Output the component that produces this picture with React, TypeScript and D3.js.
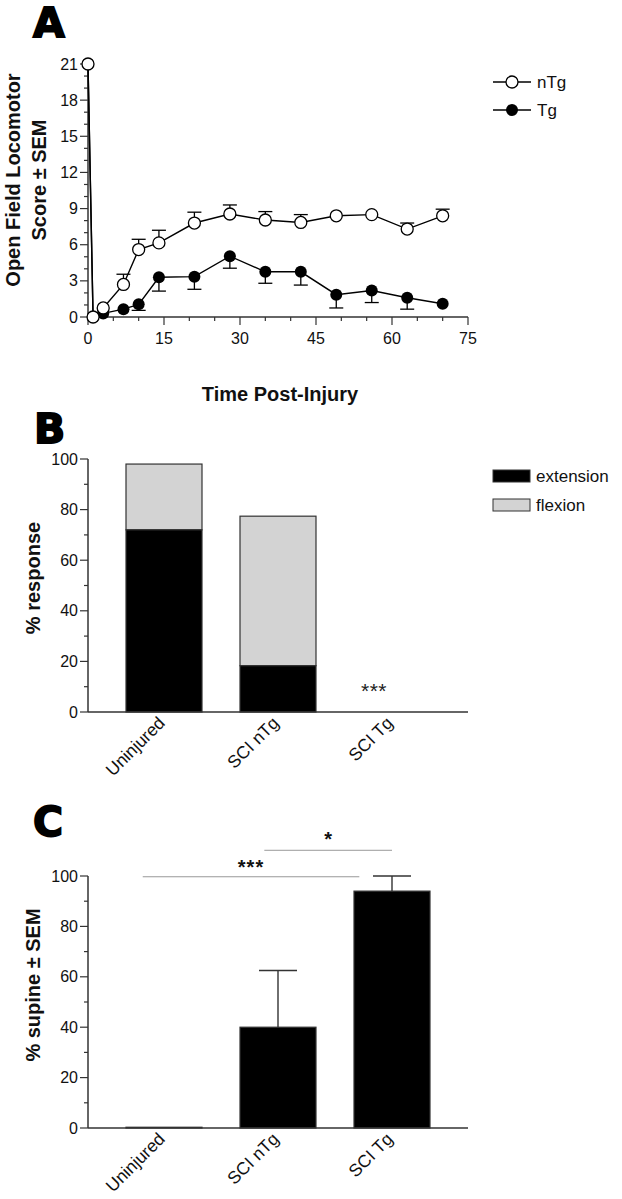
import React from 'react';
import * as d3 from 'd3';

// ---------- Panel A data ----------
const days = [0, 1, 3, 7, 10, 14, 21, 28, 35, 42, 49, 56, 63, 70];
const nTgMean = [21, 0, 0.75, 2.7, 5.6, 6.15, 7.8, 8.55, 8.05, 7.85, 8.4, 8.5, 7.3, 8.4];
const nTgSem = [0, 0, 0, 0.85, 0.85, 1.05, 0.9, 0.75, 0.7, 0.65, 0, 0, 0.5, 0.55];
const tgMean = [21, 0, 0.3, 0.65, 1.05, 3.3, 3.35, 5.05, 3.75, 3.75, 1.85, 2.2, 1.6, 1.1];
const tgSem = [0, 0, 0, 0, 0.5, 1.15, 1.05, 1.0, 0.95, 1.1, 1.1, 1.0, 0.95, 0];
const aYTicks = [0, 3, 6, 9, 12, 15, 18, 21];
const aXTicks = [0, 15, 30, 45, 60, 75];

// ---------- Panel B data ----------
const groups = ['Uninjured', 'SCI nTg', 'SCI Tg'];
const extension = [72, 18.3, 0];
const flexion = [26, 59.1, 0];
const pctTicks = [0, 20, 40, 60, 80, 100];

// ---------- Panel C data ----------
const supineMean = [0.3, 40, 94];
const supineSem = [0, 22.5, 6];

const FONT = '"Liberation Sans", Arial, Helvetica, sans-serif';
const AX = '#333';

function Letter({ x, y, t }: { x: number; y: number; t: string }) {
  return (
    <text x={x} y={y} fontFamily='"DejaVu Sans", sans-serif' fontWeight={900} fontSize={41}
      stroke="#000" strokeWidth={1.8} fill="#000">{t}</text>
  );
}

function PanelA() {
  const x = d3.scaleLinear().domain([0, 75]).range([88, 468]);
  const y = d3.scaleLinear().domain([0, 21]).range([317, 64]);
  const line = d3.line<number>().x((_, i) => x(days[i])).y((d) => y(d));
  const minorY = d3.range(0, 22, 1);
  const minorX = d3.range(0, 76, 5);
  const r = 6;
  const capW = 7;
  return (
    <g fontFamily={FONT}>
      <line x1={x(0)} x2={x(0)} y1={y(0)} y2={y(21)} stroke={AX} strokeWidth={1.5} />
      <line x1={x(0)} x2={x(75)} y1={y(0)} y2={y(0)} stroke={AX} strokeWidth={1.5} />
      {minorY.map((t) => (
        <line key={'my' + t} x1={x(0) - (t % 3 === 0 ? 8 : 4)} x2={x(0)} y1={y(t)} y2={y(t)} stroke={AX} strokeWidth={1.2} />
      ))}
      {aYTicks.map((t) => (
        <text key={'yl' + t} x={x(0) - 10} y={y(t) + 5.5} textAnchor="end" fontSize={16} fill="#111">{t}</text>
      ))}
      {minorX.map((t) => (
        <line key={'mx' + t} x1={x(t)} x2={x(t)} y1={y(0)} y2={y(0) + (t % 15 === 0 ? 8 : 4)} stroke={AX} strokeWidth={1.2} />
      ))}
      {aXTicks.map((t) => (
        <text key={'xl' + t} x={x(t)} y={y(0) + 27} textAnchor="middle" fontSize={16} fill="#111">{t}</text>
      ))}
      <text x={280} y={401} textAnchor="middle" fontSize={20} fontWeight="bold" fill="#111">Time Post-Injury</text>
      <text transform={`translate(20,180) rotate(-90)`} textAnchor="middle" fontSize={20} fontWeight="bold" fill="#111">Open Field Locomotor</text>
      <text transform={`translate(46,180) rotate(-90)`} textAnchor="middle" fontSize={20} fontWeight="bold" fill="#111">Score ± SEM</text>

      {/* Tg series */}
      {tgMean.map((m, i) => tgSem[i] > 0 ? (
        <g key={'te' + i} stroke="#000" strokeWidth={1.3}>
          <line x1={x(days[i])} x2={x(days[i])} y1={y(m)} y2={y(m - tgSem[i])} />
          <line x1={x(days[i]) - capW} x2={x(days[i]) + capW} y1={y(m - tgSem[i])} y2={y(m - tgSem[i])} />
        </g>
      ) : null)}
      <path d={line(tgMean) || ''} fill="none" stroke="#000" strokeWidth={1.4} />
      {tgMean.map((m, i) => (
        <circle key={'tc' + i} cx={x(days[i])} cy={y(m)} r={r} fill="#000" />
      ))}

      {/* nTg series */}
      {nTgMean.map((m, i) => nTgSem[i] > 0 ? (
        <g key={'ne' + i} stroke="#000" strokeWidth={1.3}>
          <line x1={x(days[i])} x2={x(days[i])} y1={y(m)} y2={y(m + nTgSem[i])} />
          <line x1={x(days[i]) - capW} x2={x(days[i]) + capW} y1={y(m + nTgSem[i])} y2={y(m + nTgSem[i])} />
        </g>
      ) : null)}
      <path d={line(nTgMean) || ''} fill="none" stroke="#000" strokeWidth={1.4} />
      {nTgMean.map((m, i) => (
        <circle key={'nc' + i} cx={x(days[i])} cy={y(m)} r={r} fill="#fff" stroke="#000" strokeWidth={1.3} />
      ))}

      {/* legend */}
      <line x1={493} x2={531} y1={82} y2={82} stroke="#000" strokeWidth={1.4} />
      <circle cx={512} cy={82} r={r} fill="#fff" stroke="#000" strokeWidth={1.3} />
      <text x={537} y={88} fontSize={17} fill="#111">nTg</text>
      <line x1={493} x2={531} y1={110} y2={110} stroke="#000" strokeWidth={1.4} />
      <circle cx={512} cy={110} r={r} fill="#000" />
      <text x={537} y={116} fontSize={17} fill="#111">Tg</text>
    </g>
  );
}

function PctAxis({ y, x0 }: { y: d3.ScaleLinear<number, number>; x0: number }) {
  const minor = d3.range(0, 101, 10);
  return (
    <g>
      <line x1={x0} x2={x0} y1={y(0)} y2={y(100)} stroke={AX} strokeWidth={1.5} />
      {minor.map((t) => (
        <line key={'m' + t} x1={x0 - (t % 20 === 0 ? 8 : 4)} x2={x0} y1={y(t)} y2={y(t)} stroke={AX} strokeWidth={1.2} />
      ))}
      {pctTicks.map((t) => (
        <text key={'l' + t} x={x0 - 10} y={y(t) + 5.5} textAnchor="end" fontSize={16} fill="#111">{t}</text>
      ))}
    </g>
  );
}

function CatLabels({ x, yAxis }: { x: d3.ScaleBand<string>; yAxis: number }) {
  return (
    <g>
      {groups.map((g) => {
        const cx = (x(g) || 0) + x.bandwidth() / 2;
        return (
          <text key={g} transform={`translate(${cx + 2},${yAxis + 12}) rotate(-45)`} textAnchor="end" fontSize={17.5} fill="#111">{g}</text>
        );
      })}
    </g>
  );
}

function PanelB() {
  const x = d3.scaleBand<string>().domain(groups).range([88, 468]).paddingInner(1 / 3).paddingOuter(1 / 3);
  const y = d3.scaleLinear().domain([0, 100]).range([712, 459]);
  const bw = x.bandwidth();
  return (
    <g fontFamily={FONT}>
      {groups.map((g, i) => (
        <g key={g}>
          {flexion[i] > 0 && (
            <rect x={x(g)} y={y(extension[i] + flexion[i])} width={bw} height={y(extension[i]) - y(extension[i] + flexion[i])}
              fill="#d3d3d3" stroke="#333" strokeWidth={1.2} />
          )}
          {extension[i] > 0 && (
            <rect x={x(g)} y={y(extension[i])} width={bw} height={y(0) - y(extension[i])} fill="#000" stroke="#333" strokeWidth={1.2} />
          )}
        </g>
      ))}
      <text x={(x('SCI Tg') || 0) + bw / 2 - 18} y={698} textAnchor="middle" fontSize={21} fill="#222" letterSpacing={0.5}>***</text>
      <PctAxis y={y} x0={88} />
      <line x1={88} x2={468} y1={y(0)} y2={y(0)} stroke={AX} strokeWidth={1.5} />
      <CatLabels x={x} yAxis={y(0)} />
      <text transform={`translate(40,578) rotate(-90)`} textAnchor="middle" fontSize={20} fontWeight="bold" fill="#111">% response</text>
      <rect x={493} y={470} width={37} height={12} fill="#000" stroke="#333" strokeWidth={1} />
      <text x={536} y={482} fontSize={17} fill="#111">extension</text>
      <rect x={493} y={499} width={37} height={12} fill="#d3d3d3" stroke="#333" strokeWidth={1} />
      <text x={536} y={511} fontSize={17} fill="#111">flexion</text>
    </g>
  );
}

function PanelC() {
  const x = d3.scaleBand<string>().domain(groups).range([88, 468]).paddingInner(1 / 3).paddingOuter(1 / 3);
  const y = d3.scaleLinear().domain([0, 100]).range([1128, 876]);
  const bw = x.bandwidth();
  const xs = (i: number) => x(groups[i]) || 0;
  return (
    <g fontFamily={FONT}>
      {groups.map((g, i) => {
        const cx = xs(i) + bw / 2;
        return (
          <g key={g}>
            {supineSem[i] > 0 && (
              <g stroke="#333" strokeWidth={1.4}>
                <line x1={cx} x2={cx} y1={y(supineMean[i])} y2={y(supineMean[i] + supineSem[i])} />
                <line x1={cx - bw / 4} x2={cx + bw / 4} y1={y(supineMean[i] + supineSem[i])} y2={y(supineMean[i] + supineSem[i])} />
              </g>
            )}
            <rect x={xs(i)} y={y(supineMean[i])} width={bw} height={y(0) - y(supineMean[i])} fill="#000" stroke="#333" strokeWidth={1.2} />
          </g>
        );
      })}
      <PctAxis y={y} x0={88} />
      <line x1={88} x2={468} y1={y(0)} y2={y(0)} stroke={AX} strokeWidth={1.5} />
      <CatLabels x={x} yAxis={y(0)} />
      <text transform={`translate(40,985) rotate(-90)`} textAnchor="middle" fontSize={20} fontWeight="bold" fill="#111">% supine ± SEM</text>
      <line x1={xs(0) + 0.22 * bw} x2={xs(2) + 0.07 * bw} y1={y(99.7)} y2={y(99.7)} stroke="#999" strokeWidth={1} />
      <text x={(xs(0) + 0.22 * bw + xs(2) + 0.07 * bw) / 2} y={874} textAnchor="middle" fontSize={20} fontWeight="bold" fill="#111" letterSpacing={1}>***</text>
      <line x1={xs(1) + 0.32 * bw} x2={xs(2) + 0.5 * bw} y1={y(110.2)} y2={y(110.2)} stroke="#999" strokeWidth={1} />
      <text x={(xs(1) + 0.32 * bw + xs(2) + 0.5 * bw) / 2} y={846} textAnchor="middle" fontSize={20} fontWeight="bold" fill="#111">*</text>
    </g>
  );
}

export default function App() {
  return (
    <svg width={622} height={1199} style={{ position: 'absolute', left: 0, top: 0, background: '#fff' }}>
      <rect x={0} y={0} width={622} height={1199} fill="#fff" />
      <Letter x={33} y={37} t="A" />
      <Letter x={34} y={443} t="B" />
      <Letter x={33} y={836} t="C" />
      <PanelA />
      <PanelB />
      <PanelC />
    </svg>
  );
}
